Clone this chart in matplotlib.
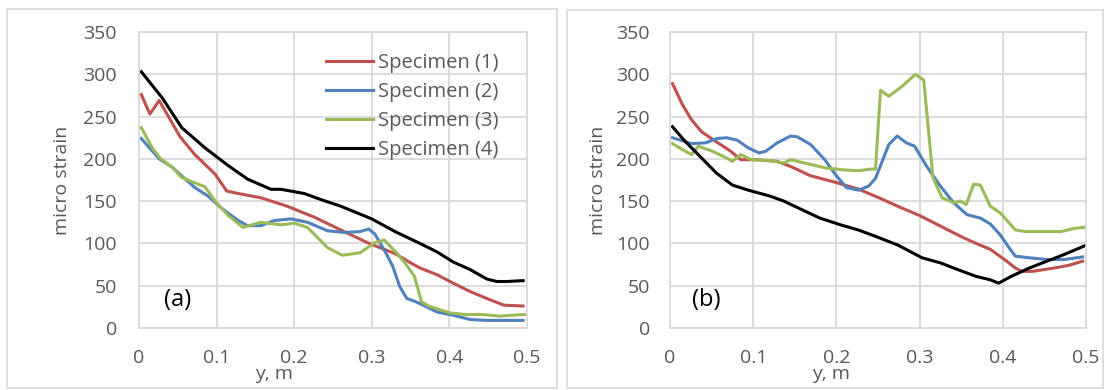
import numpy as np
import matplotlib
matplotlib.use('Agg')
import matplotlib.pyplot as plt
from matplotlib.patches import Rectangle

plt.rcParams['font.family'] = ['Open Sans', 'DejaVu Sans']

# ---------------------------------------------------------------
# Panel (a)
# ---------------------------------------------------------------
a1_y = [0.003, 0.014, 0.026, 0.053, 0.072, 0.098, 0.113, 0.128, 0.157, 0.191,
        0.226, 0.26, 0.294, 0.33, 0.35, 0.362, 0.384, 0.405, 0.427, 0.448,
        0.47, 0.495]
a1_s = [276, 253, 269, 226, 205, 182, 162, 159, 154, 144,
        131, 116, 101, 88, 77, 71, 63, 53, 43, 35,
        27, 26]

a2_y = [0.003, 0.026, 0.043, 0.055, 0.072, 0.089, 0.106, 0.128, 0.14, 0.157,
        0.174, 0.196, 0.217, 0.243, 0.264, 0.285, 0.296, 0.304, 0.318, 0.327,
        0.336, 0.345, 0.357, 0.384, 0.405, 0.427, 0.448, 0.495]
a2_s = [224, 200, 190, 180, 166, 156, 142, 127, 121, 121,
        127, 129, 125, 115, 113, 114, 117, 111, 89, 73,
        49, 35, 31, 19, 15, 10, 9, 9]

a3_y = [0.003, 0.017, 0.028, 0.043, 0.055, 0.068, 0.085, 0.098, 0.115, 0.134,
        0.157, 0.183, 0.2, 0.217, 0.243, 0.262, 0.285, 0.304, 0.316, 0.332,
        0.346, 0.355, 0.364, 0.373, 0.4, 0.419, 0.442, 0.465, 0.479, 0.497]
a3_s = [237, 213, 200, 190, 178, 173, 167, 150, 133, 119,
        125, 122, 124, 119, 95, 86, 89, 101, 104, 89,
        73, 61, 31, 26, 18, 16, 16, 14, 15, 16]

a4_y = [0.003, 0.03, 0.055, 0.085, 0.115, 0.14, 0.17, 0.183, 0.213, 0.234,
        0.26, 0.3, 0.33, 0.362, 0.384, 0.405, 0.427, 0.448, 0.461, 0.474,
        0.495]
a4_s = [303, 272, 237, 213, 192, 176, 164, 164, 159, 152,
        144, 129, 114, 100, 90, 78, 69, 58, 55, 55,
        56]

# ---------------------------------------------------------------
# Panel (b)
# ---------------------------------------------------------------
b1_y = [0.003, 0.015, 0.026, 0.038, 0.056, 0.073, 0.085, 0.103, 0.129, 0.145,
        0.169, 0.2, 0.227, 0.251, 0.276, 0.3, 0.324, 0.35, 0.368, 0.385,
        0.402, 0.415, 0.423, 0.436, 0.462, 0.479, 0.496]
b1_s = [289, 264, 246, 232, 220, 209, 199, 199, 197, 191,
        180, 172, 164, 154, 143, 133, 121, 108, 100, 93,
        81, 71, 67, 67, 71, 74, 79]

b2_y = [0.003, 0.026, 0.043, 0.056, 0.068, 0.081, 0.094, 0.107, 0.115, 0.129,
        0.145, 0.153, 0.169, 0.186, 0.2, 0.212, 0.227, 0.239, 0.247, 0.263,
        0.273, 0.284, 0.294, 0.308, 0.324, 0.341, 0.357, 0.373, 0.385, 0.397,
        0.406, 0.415, 0.432, 0.453, 0.474, 0.496]
b2_s = [225, 218, 219, 224, 225, 222, 213, 207, 209, 219,
        227, 226, 217, 199, 180, 166, 163, 168, 177, 217,
        227, 219, 215, 192, 169, 148, 134, 130, 123, 110,
        97, 85, 83, 81, 81, 84]

b3_y = [0.003, 0.015, 0.026, 0.034, 0.051, 0.064, 0.075, 0.085, 0.098, 0.12,
        0.137, 0.145, 0.162, 0.188, 0.209, 0.226, 0.243, 0.247, 0.253, 0.263,
        0.278, 0.295, 0.305, 0.316, 0.327, 0.341, 0.349, 0.356, 0.365, 0.373,
        0.385, 0.397, 0.415, 0.427, 0.453, 0.47, 0.487, 0.498]
b3_s = [218, 211, 205, 215, 209, 203, 197, 205, 199, 198,
        195, 199, 195, 189, 187, 186, 188, 188, 281, 274,
        285, 300, 293, 178, 154, 148, 150, 146, 170, 169,
        144, 136, 116, 114, 114, 114, 118, 119]

b4_y = [0.003, 0.017, 0.034, 0.056, 0.075, 0.094, 0.12, 0.137, 0.154, 0.18,
        0.205, 0.226, 0.248, 0.274, 0.303, 0.325, 0.346, 0.368, 0.385, 0.395,
        0.41, 0.432, 0.453, 0.474, 0.498]
b4_s = [238, 222, 205, 183, 169, 163, 156, 150, 142, 130,
        122, 116, 108, 98, 83, 77, 69, 61, 57, 53,
        61, 71, 79, 87, 97]

labels = ['Specimen (1)', 'Specimen (2)', 'Specimen (3)', 'Specimen (4)']
colors = ['#C0504D', '#4F81BD', '#9BBB59', '#000000']

W, H = 1107, 390
fig = plt.figure(figsize=(W / 100, H / 100), dpi=100)

# chart frames
fig.patches.append(Rectangle((7 / W, 1 - 388 / H), 550 / W, 379 / H, transform=fig.transFigure,
                             fill=False, edgecolor='#d9d9d9', linewidth=1.2))
fig.patches.append(Rectangle((567 / W, 1 - 388 / H), 536 / W, 378 / H, transform=fig.transFigure,
                             fill=False, edgecolor='#d9d9d9', linewidth=1.2))

ax_a = fig.add_axes([139 / W, 1 - 328 / H, 388 / W, 296 / H])
ax_b = fig.add_axes([670 / W, 1 - 328 / H, 416 / W, 296 / H])

series_a = [(a1_y, a1_s), (a2_y, a2_s), (a3_y, a3_s), (a4_y, a4_s)]
series_b = [(b1_y, b1_s), (b2_y, b2_s), (b3_y, b3_s), (b4_y, b4_s)]

for ax, series, tag, tag_x, ypad in [(ax_a, series_a, '(a)', 0.10, 15.8),
                                     (ax_b, series_b, '(b)', 0.087, 14.4)]:
    for (x, s), c, lab in zip(series, colors, labels):
        ax.plot(x, s, color=c, linewidth=2.2, label=lab, solid_joinstyle='round')
    ax.set_xlim(0, 0.5)
    ax.set_ylim(0, 350)
    ax.set_xticks(np.arange(0, 0.51, 0.1))
    ax.set_xticklabels(['0', '0.1', '0.2', '0.3', '0.4', '0.5'])
    ax.set_yticks(np.arange(0, 351, 50))
    ax.grid(True, color='#d9d9d9', linewidth=1.3)
    ax.set_axisbelow(True)
    for sp in ax.spines.values():
        sp.set_color('#d9d9d9')
        sp.set_linewidth(1.3)
    ax.tick_params(axis='both', length=0, labelsize=14, colors='#595959')
    ax.tick_params(axis='y', pad=ypad)
    ax.tick_params(axis='x', pad=15)
    ax.text(tag_x, 0.095, tag, transform=ax.transAxes, fontsize=17, color='black',
            ha='center', va='center')

fig.text(62 / W, 1 - 180 / H, 'micro strain', rotation=90, fontsize=14, color='#595959',
         ha='center', va='center')
fig.text(598 / W, 1 - 180 / H, 'micro strain', rotation=90, fontsize=14, color='#595959',
         ha='center', va='center')
fig.text(274 / W, 1 - 374 / H, 'y, m', fontsize=14, color='#595959', ha='center', va='center')
fig.text(831 / W, 1 - 374 / H, 'y, m', fontsize=14, color='#595959', ha='center', va='center')

leg = ax_a.legend(loc='upper left', bbox_to_anchor=(318 / W, 1 - 45 / H),
                  bbox_transform=fig.transFigure, frameon=False, fontsize=14.5,
                  handlelength=2.35, handletextpad=0.25, labelspacing=0.45, borderaxespad=0)
for t in leg.get_texts():
    t.set_color('#595959')

fig.savefig('out.png', dpi=100)
